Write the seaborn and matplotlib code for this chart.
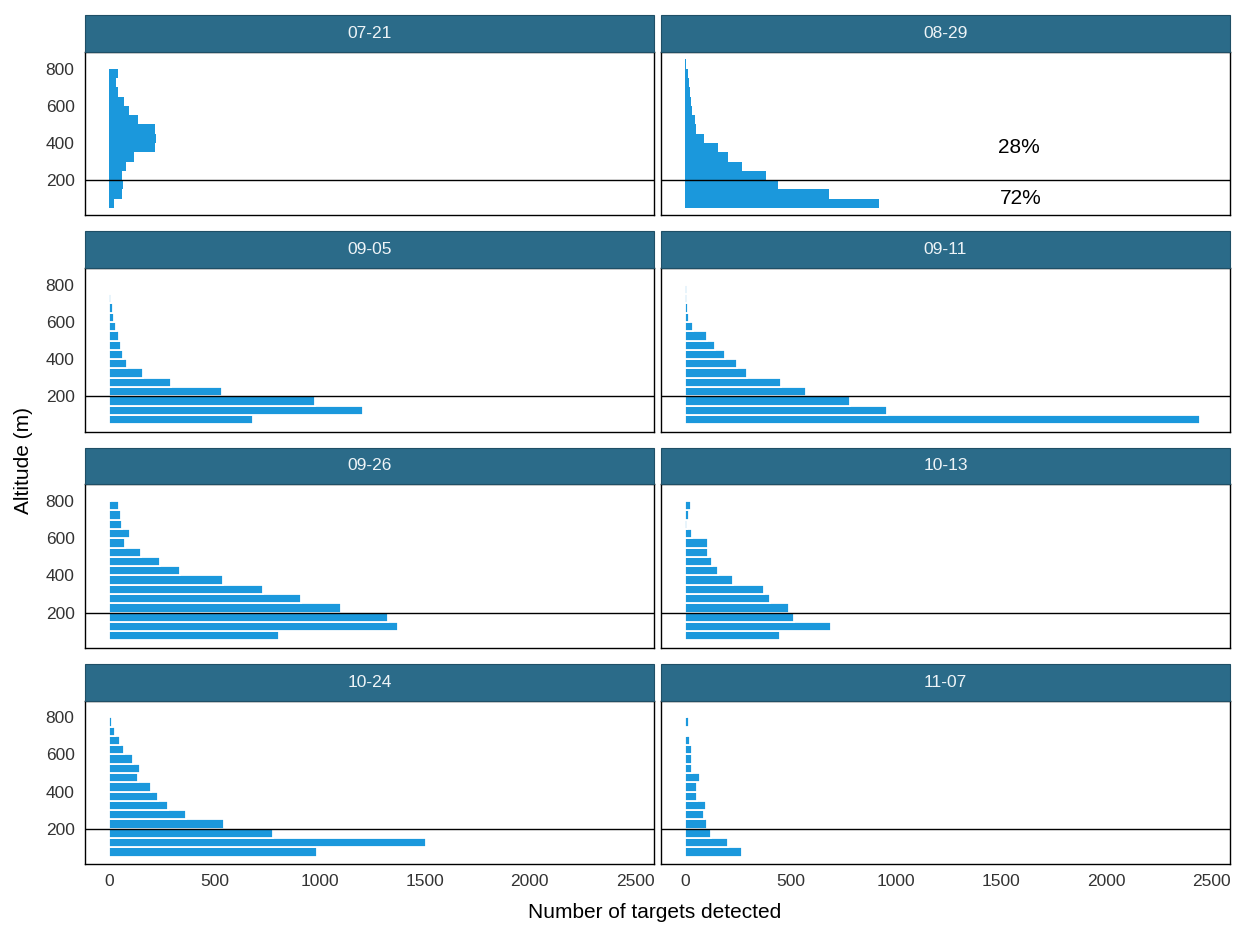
import numpy as np
import pandas as pd
import matplotlib
matplotlib.use("Agg")
import matplotlib.pyplot as plt
from matplotlib import font_manager
from matplotlib.patches import Rectangle
import seaborn as sns

# ---------------- data ----------------
dates = ["07-21", "08-29", "09-05", "09-11", "09-26", "10-13", "10-24", "11-07"]
# lower edges of the 50 m altitude bins (50-100 ... 800-850)
alt_lower = [50, 100, 150, 200, 250, 300, 350, 400, 450, 500, 550, 600, 650, 700, 750, 800]
bin_width = 50

counts_0721 = [24, 63, 68, 63, 79, 119, 217, 222, 217, 138, 95, 71, 43, 32, 40, 0]
counts_0829 = [919, 683, 442, 383, 268, 205, 158, 87, 50, 45, 32, 28, 22, 18, 14, 5]
counts_0905 = [684, 1208, 977, 538, 296, 161, 87, 68, 55, 47, 32, 24, 16, 8, 0, 0]
counts_0911 = [2449, 961, 781, 575, 457, 292, 247, 189, 142, 103, 39, 20, 15, 10, 6, 3]
counts_0926 = [807, 1372, 1325, 1103, 910, 733, 541, 336, 241, 150, 76, 100, 60, 55, 47, 5]
counts_1013 = [449, 694, 516, 492, 405, 375, 229, 158, 126, 106, 106, 32, 8, 16, 28, 0]
counts_1024 = [986, 1507, 778, 548, 366, 279, 232, 197, 137, 147, 115, 71, 50, 27, 13, 0]
counts_1107 = [270, 205, 123, 103, 90, 98, 58, 58, 68, 32, 32, 32, 24, 5, 16, 5]

all_counts = [counts_0721, counts_0829, counts_0905, counts_0911,
              counts_0926, counts_1013, counts_1024, counts_1107]

threshold_alt = 200
annot_panel = "08-29"
annot_labels = ["28%", "72%"]
annot_x = [1585, 1595]
annot_y = [377, 103]

x_ticks = [0, 500, 1000, 1500, 2000, 2500]
y_ticks = [200, 400, 600, 800]

# ---------------- style ----------------
sns.set_theme(style="white")
avail = {f.name for f in font_manager.fontManager.ttflist}
narrow = "Liberation Sans Narrow" if "Liberation Sans Narrow" in avail else "Liberation Sans"
plt.rcParams["font.family"] = [narrow, "DejaVu Sans"]

bar_color = "#1b98dc"
strip_color = "#2b6b89"
tick_color = "#333333"

rows = []
for d, c in zip(dates, all_counts):
    for a, n in zip(alt_lower, c):
        rows.append({"date": d, "alt": a + bin_width / 2, "count": n})
df = pd.DataFrame(rows)

fig_w, fig_h = 1236, 925
g = sns.FacetGrid(df, col="date", col_wrap=2, col_order=dates,
                  sharex=True, sharey=True, height=2.0, aspect=2.0)
g.figure.set_size_inches(fig_w / 100, fig_h / 100)
g.figure.subplots_adjust(left=85 / fig_w, right=1230 / fig_w,
                         top=1 - 52 / fig_h, bottom=1 - 864 / fig_h,
                         wspace=0.0125, hspace=0.323)

bins = list(alt_lower) + [alt_lower[-1] + bin_width]
no_gap = ["07-21", "08-29"]

for i, d in enumerate(dates):
    ax = g.axes_dict[d]
    sub = df[(df["date"] == d)]
    if d in no_gap:
        sub = sub[sub["count"] > 0]
        sns.histplot(data=sub, y="alt", weights="count", bins=bins, ax=ax,
                     element="step", fill=True, color=bar_color, alpha=1,
                     linewidth=0)
    else:
        sub = sub[sub["count"] > 0]
        sns.histplot(data=sub, y="alt", weights="count", bins=bins, ax=ax,
                     color=bar_color, alpha=1, edgecolor="white",
                     linewidth=1.3)
    ax.axhline(threshold_alt, color="black", linewidth=1.0, zorder=5)
    ax.set_xlim(-115, 2590)
    ax.set_ylim(10, 890)
    ax.set_xticks(x_ticks)
    ax.set_yticks(y_ticks)
    ax.set_xlabel("")
    ax.set_ylabel("")
    ax.set_title("")
    for s in ax.spines.values():
        s.set_visible(True)
        s.set_color("black")
        s.set_linewidth(1.0)
    col = i % 2
    row = i // 2
    ax.tick_params(axis="both", colors=tick_color, labelsize=12.5,
                   direction="out", length=4, width=0.8, color="black")
    if col == 1:
        ax.tick_params(axis="y", length=0, labelleft=False)
    if row < 3:
        ax.tick_params(axis="x", length=0, labelbottom=False)
    else:
        ax.tick_params(axis="x", labelbottom=True)
    # facet strip
    strip_h = 37 / 164
    ax.add_patch(Rectangle((0, 1), 1, strip_h, transform=ax.transAxes,
                           facecolor=strip_color, edgecolor="#1f4f66",
                           linewidth=0.8, clip_on=False, zorder=3))
    ax.text(0.5, 1 + strip_h / 2, d, transform=ax.transAxes, ha="center",
            va="center", color="#eef4f7", fontsize=12.5, zorder=4)

ax = g.axes_dict[annot_panel]
for lab, xx, yy in zip(annot_labels, annot_x, annot_y):
    ax.text(xx, yy, lab, ha="center", va="center", fontsize=15,
            color="black", family=["Liberation Sans", "DejaVu Sans"])

g.figure.text(655 / fig_w, 1 - 912 / fig_h, "Number of targets detected",
              ha="center", va="center", fontsize=15, color="black")
g.figure.text(24 / fig_w, 1 - 460 / fig_h, "Altitude (m)", rotation=90,
              ha="center", va="center", fontsize=15, color="black")

g.figure.savefig("out.png", dpi=100)
